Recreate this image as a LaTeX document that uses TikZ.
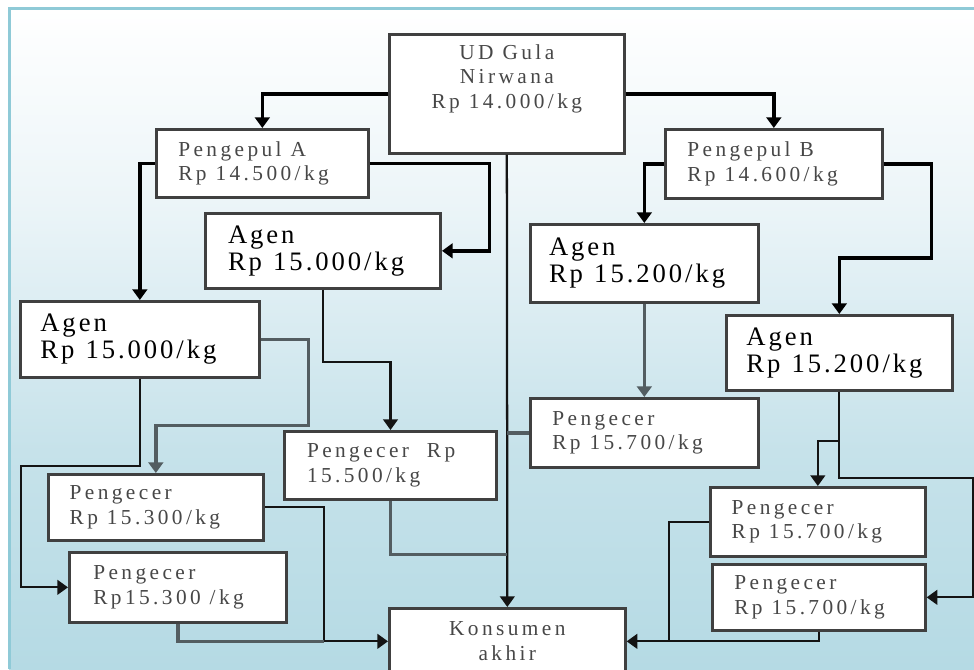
\documentclass[tikz,border=0pt]{standalone}
\usepackage{fontspec}
\setmainfont{Liberation Serif}
\newfontfamily\smf[LetterSpace=16]{Liberation Serif}
\newfontfamily\agf[LetterSpace=11]{Liberation Serif}
\newcommand{\ws}{\hspace{0.42em}}
\usetikzlibrary{arrows.meta,calc}
\definecolor{bgbot}{HTML}{B5DAE4}
\definecolor{bgq}{HTML}{C6E2EA}
\definecolor{bgm}{HTML}{D8EBF1}
\definecolor{bgt}{HTML}{ECF5F8}
\definecolor{frameC}{HTML}{8FCAD7}
\definecolor{gline}{HTML}{535D61}
\pgfdeclareverticalshading{bgshade}{100bp}{color(0bp)=(bgbot); color(25bp)=(bgbot); color(41.5bp)=(bgq); color(50.5bp)=(bgm); color(60.5bp)=(bgt); color(75bp)=(white); color(100bp)=(white)}
\tikzset{
  box/.style={draw=black!75, line width=2pt, fill=white, anchor=north west, inner ysep=0pt},
  lbox/.style={box, align=left, inner xsep=16.5pt},
  sm/.style={font=\smf\fontsize{16}{18.4}\selectfont, text=black!72},
  ag/.style={font=\agf\fontsize{20}{20.5}\selectfont, text=black},
  thk/.style={line width=2.7pt, black},
  med/.style={line width=1.7pt, black!92},
  gry/.style={line width=2.5pt, gline},
  arr/.style={-{Triangle[width=11pt,length=8pt]}},
}
\begin{document}
\begin{tikzpicture}[x=0.75pt,y=-0.75pt]
\useasboundingbox (0,0) rectangle (974,669);
\clip (0,0) rectangle (974,669);
\fill[white] (0,0) rectangle (974,669);
\shade[shading=bgshade] (9,9) rectangle (974,669);
\draw[frameC, line width=2.2pt] (9.5,669) -- (9.5,8.5) -- (974,8.5);

% boxes
\node[box, sm, align=center, minimum width=176.25pt, minimum height=89.25pt, text depth=26pt] (ud) at (388,33) {UD\ws Gula\\Nirwana\\Rp\ws 14.000/kg};
\node[lbox, sm, minimum width=159pt, minimum height=51pt, text width=126pt] (pa) at (155,128) {Pengepul\ws A\\Rp\ws 14.500/kg};
\node[lbox, sm, minimum width=162.75pt, minimum height=51.75pt, text width=129.75pt] (pb) at (664,128) {Pengepul\ws B\\Rp\ws 14.600/kg};
\node[lbox, ag, minimum width=175.5pt, minimum height=56.25pt, text width=142.5pt, inner xsep=17pt] (agenML) at (204,212) {Agen\\Rp\ws 15.000/kg};
\node[lbox, ag, minimum width=179.25pt, minimum height=57pt, text width=149.25pt, inner xsep=15pt] (agenL) at (19,300) {Agen\\Rp\ws 15.000/kg};
\node[lbox, ag, minimum width=171pt, minimum height=58.5pt, text width=143pt, inner xsep=14pt] (agenMR) at (529,223) {Agen\\Rp\ws 15.200/kg};
\node[lbox, ag, minimum width=169.5pt, minimum height=56.25pt, text width=139.5pt, inner xsep=15pt] (agenR) at (725,314) {Agen\\Rp\ws 15.200/kg};
\node[lbox, sm, minimum width=171pt, minimum height=51.75pt, text width=138pt] (p157m) at (529,397) {Pengecer\\Rp\ws 15.700/kg};
\node[lbox, sm, minimum width=158.25pt, minimum height=51pt, text width=125.25pt, inner xsep=17pt] (p155) at (283,430) {Pengecer\ws\ws Rp\\15.500/kg};
\node[lbox, sm, minimum width=161.25pt, minimum height=49.5pt, text width=129.25pt, inner xsep=16pt] (p153) at (47,473) {Pengecer\\Rp\ws 15.300/kg};
\node[lbox, sm, minimum width=162.75pt, minimum height=52.5pt, text width=126.75pt, inner xsep=18pt] (plow) at (68,551) {Pengecer\\Rp15.300\ws /kg};
\node[lbox, sm, minimum width=161.25pt, minimum height=51.75pt, text width=129.25pt, inner xsep=16pt] (pr1) at (709,486) {Pengecer\\Rp\ws 15.700/kg};
\node[lbox, sm, minimum width=159.75pt, minimum height=49.5pt, text width=126.75pt, inner xsep=16.5pt] (pr2) at (711,563) {Pengecer\\Rp\ws 15.700/kg};
\node[box, sm, align=center, minimum width=177pt, minimum height=49.5pt] (kons) at (388,607) {Konsumen\\akhir};

% junctions
\coordinate (jL) at ($(kons.west)+(-64,0)$);
\coordinate (jR) at ($(kons.east)+(42,0)$);
\coordinate (trA) at ($(ud.south |- p155.south)+(0,54)$);

% connectors
\draw[thk,arr] (ud.west) -| (pa.north);
\draw[thk,arr] (ud.east) -| (pb.north);
\draw[med,arr] (ud.south) -- (kons.north);
\draw[thk,arr] (pa.west) -| (agenL.north);
\draw[thk,arr] (pa.east) -- ++(120,0) |- (agenML.east);
\draw[thk,arr] (pb.west) -| (agenMR.north);
\draw[thk,arr] (pb.east) -- ++(48,0) -- ++(0,94) -| (agenR.north);
\draw[med,arr] (agenML.south) -- ++(0,72) -| (p155.north);
\draw[gry,arr] (agenL.east) -- ++(48,0) -- ++(0,86) -| (p153.north);
\draw[med,arr] (agenL.south) -- ++(0,87) -- ++(-118.5,0) |- (plow.west);
\draw[med,arr] (p153.east) -| (jL) -- (kons.west);
\draw[gry] (plow.south) |- (jL);
\draw[gry] (p155.south) |- (trA);
\draw[gry,arr] (agenMR.south) -- (p157m.north);
\draw[gry] (p157m.west) -- (ud.south |- p157m.west);
\draw[med,arr] (agenR.south) -- ++(0,49) -| (pr1.north);
\draw[med,arr] (agenR.south) -- ++(0,86) -- ++(134,0) |- (pr2.east);
\draw[med,arr] (pr1.west) -| (jR) -- (kons.east);
\draw[med] (pr2.south) |- (jR);
\end{tikzpicture}
\end{document}
